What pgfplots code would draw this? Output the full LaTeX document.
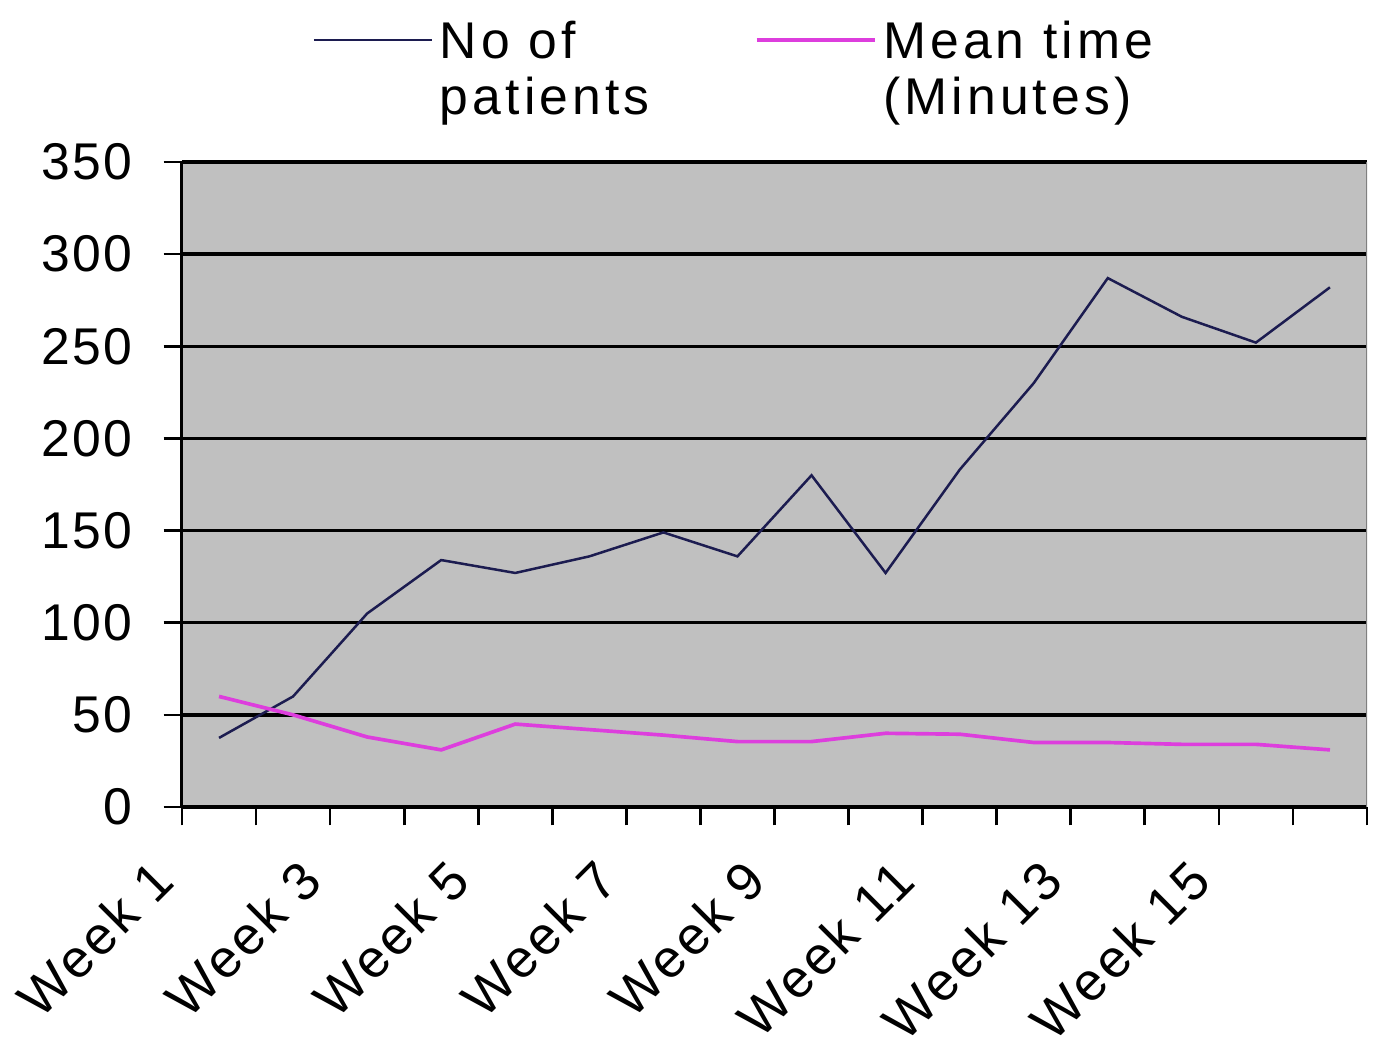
\documentclass[border=0pt]{standalone}
\usepackage{fontspec}
\setmainfont{Liberation Sans}
\newfontfamily\tickfont{Liberation Sans}[LetterSpace=4]
\newfontfamily\weekfont{Liberation Sans}[LetterSpace=6]
\newfontfamily\legfont{Liberation Sans}[LetterSpace=8]
\usepackage{pgfplots}
\pgfplotsset{compat=1.18}
\definecolor{plotgrey}{HTML}{C0C0C0}
\definecolor{navyline}{HTML}{1C1C50}
\definecolor{magline}{HTML}{DD3EDD}
\begin{document}
\begin{tikzpicture}
\useasboundingbox (-54.6pt,-73.8pt) rectangle (359.7pt,242.1pt);
\begin{axis}[
  at={(0pt,0pt)}, anchor=south west,
  scale only axis, width=355.5pt, height=193.5pt,
  xmin=0.5, xmax=16.5, ymin=0, ymax=350,
  axis lines*=left,
  axis line style={black, line width=0.9pt},
  axis background/.style={fill=plotgrey},
  ytick={0,50,...,350},
  xtick={0.5,1.5,...,16.5},
  xticklabels={},
  tick align=outside,
  major tick length=5.5pt,
  tick style={black, line width=0.8pt},
  ymajorgrids,
  grid style={black, line width=1pt},
  yticklabel style={font=\tickfont\fontsize{15.5}{18}\selectfont, xshift=-6pt},
  /pgf/number format/assume math mode=true,
  extra x ticks={1,3,5,7,9,11,13,15},
  extra x tick labels={Week 1,Week 3,Week 5,Week 7,Week 9,Week 11,Week 13,Week 15},
  extra x tick style={major tick length=0pt,
    xticklabel style={font=\weekfont\fontsize{16}{18}\selectfont, xshift=-21pt, yshift=-10pt, rotate=45, anchor=north east}},
  legend style={at={(0,1)}, anchor=north west, xshift=39pt, yshift=42.6pt,
    draw=none, fill=none, inner sep=0pt,
    nodes={inner sep=0pt, align=left, font=\legfont\fontsize{15.5}{17}\selectfont},
    /tikz/every even column/.append style={column sep=31.5pt},
    /tikz/every odd column/.append style={column sep=2pt}},
  legend columns=2,
  legend cell align=left,
  legend image code/.code={\draw[#1] (0pt,9pt) -- (35.4pt,9pt);},
]
\addplot[navyline, line width=0.75pt, sharp plot] coordinates {
 (1,37.5) (2,60) (3,105) (4,134) (5,127) (6,136) (7,149) (8,136)
 (9,180) (10,127) (11,183) (12,230) (13,287) (14,266) (15,252) (16,282)};
\addlegendentry{No of\\patients}
\addplot[magline, line width=1.1pt, sharp plot] coordinates {
 (1,60) (2,50) (3,38) (4,31) (5,45) (6,42) (7,39) (8,35.5)
 (9,35.5) (10,40) (11,39.5) (12,35) (13,35) (14,34) (15,34) (16,31)};
\addlegendentry{Mean time\\(Minutes)}
\draw[gray, line width=0.5pt] (rel axis cs:1,0) -- (rel axis cs:1,1);
\end{axis}
\end{tikzpicture}
\end{document}
